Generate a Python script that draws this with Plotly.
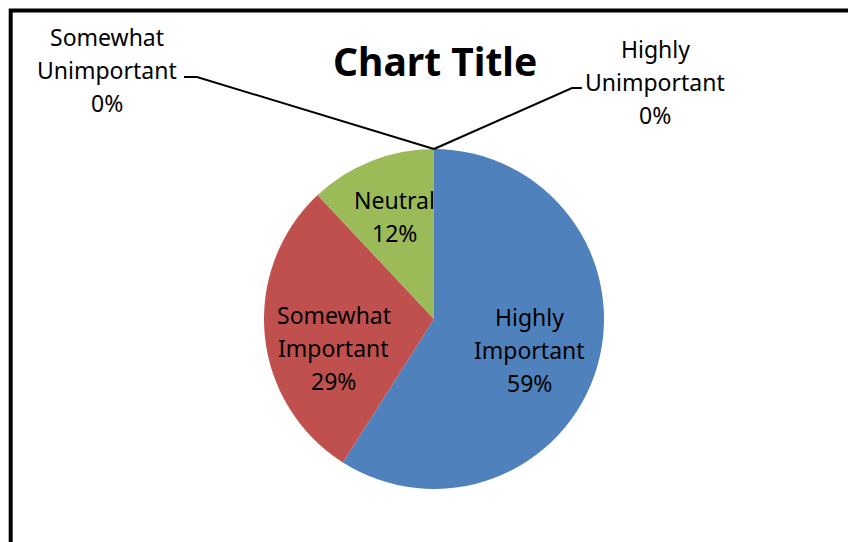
import math
import plotly.graph_objects as go

# ---- data ----
categories = ["Highly Important", "Somewhat Important", "Neutral",
              "Somewhat Unimportant", "Highly Unimportant"]
label_lines = [["Highly", "Important"], ["Somewhat", "Important"], ["Neutral"],
               ["Somewhat", "Unimportant"], ["Highly", "Unimportant"]]
values = [59, 29, 12, 0, 0]
colors = ["#4F81BD", "#C0504D", "#9BBB59", "#8064A2", "#4BACC6"]
title_text = "Chart Title"

W, H = 848, 542
FONT = "Noto Sans"
LINE_H = 33

# pie geometry (pixels)
cx, cy, R = 434, 319, 170
dom_x = [(cx - R) / W, (cx + R) / W]
dom_y = [(H - cy - R) / H, (H - cy + R) / H]

def px(x):
    return x / W

def py(y):
    return 1 - y / H

fig = go.Figure(go.Pie(
    labels=categories, values=values, sort=False, direction="clockwise",
    rotation=0, marker=dict(colors=colors, line=dict(width=0)),
    textinfo="none", hoverinfo="label+percent", showlegend=False,
    domain=dict(x=dom_x, y=dom_y),
))

total = sum(values)
annotations = []
shapes = []

def add_block(lines, x, y, size=23):
    n = len(lines)
    for k, line in enumerate(lines):
        ly = y + (k - (n - 1) / 2) * LINE_H
        annotations.append(dict(
            x=px(x), y=py(ly), xref="paper", yref="paper", text=line,
            showarrow=False, xanchor="center", yanchor="middle",
            font=dict(family=FONT, size=size, color="black"),
        ))

# inside labels computed from slice mid-angles (best-fit nudges in px)
nudge = {0: (-4, 2), 1: (3, 19), 2: (-1, -6)}
cum = 0.0
for i, v in enumerate(values):
    start = cum
    cum += v
    if v <= 0:
        continue
    mid = (start + v / 2) / total * 2 * math.pi
    r = 0.61 * R
    lx = cx + r * math.sin(mid) + nudge.get(i, (0, 0))[0]
    ly = cy - r * math.cos(mid) + nudge.get(i, (0, 0))[1]
    pct = round(v / total * 100)
    add_block(label_lines[i] + [f"{pct}%"], lx, ly)

# zero-value slices: outside labels with leader lines to top of pie
top = (cx, cy - R)
outside = {
    3: dict(center=(107, 70), path=[(184, 77), (197, 77)]),
    4: dict(center=(655, 82), path=[(582, 88), (572, 88)]),
}
for i, spec in outside.items():
    pct = round(values[i] / total * 100)
    add_block(label_lines[i] + [f"{pct}%"], spec["center"][0], spec["center"][1])
    pts = spec["path"] + [top]
    d = "M " + " L ".join(f"{px(x):.5f},{py(y):.5f}" for x, y in pts)
    shapes.append(dict(type="path", xref="paper", yref="paper", path=d,
                       line=dict(color="black", width=2)))

# title
annotations.append(dict(
    x=px(435), y=py(60), xref="paper", yref="paper", text=f"<b>{title_text}</b>",
    showarrow=False, xanchor="center", yanchor="middle",
    font=dict(family=FONT, size=39, color="black"),
))

# chart-area border (left and top edges visible)
shapes.append(dict(type="rect", xref="paper", yref="paper",
                   x0=px(10.7), y0=-0.1, x1=1.1, y1=py(10.5),
                   line=dict(color="black", width=4), layer="above"))

fig.update_layout(
    width=W, height=H, margin=dict(l=0, r=0, t=0, b=0),
    paper_bgcolor="white", plot_bgcolor="white",
    annotations=annotations, shapes=shapes,
)

fig.write_html("out.html")
